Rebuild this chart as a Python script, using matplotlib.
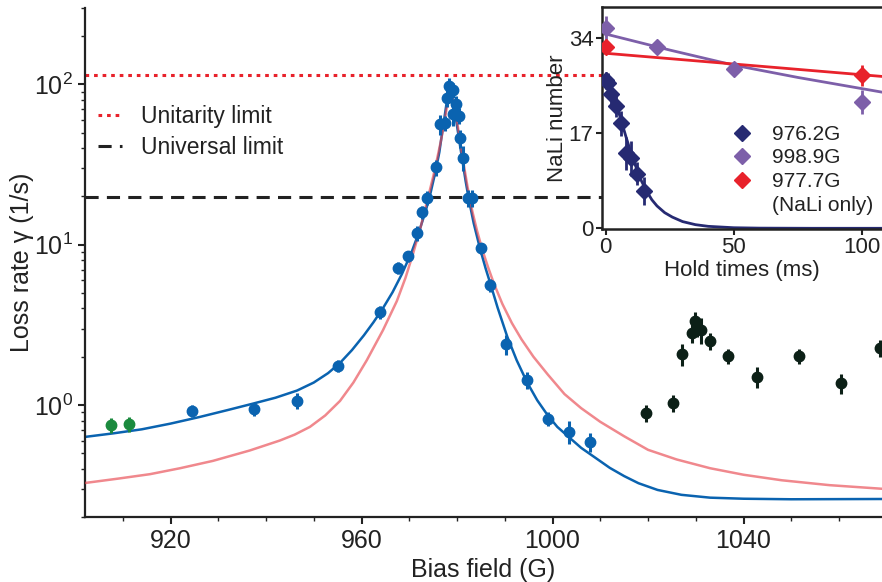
import numpy as np
import matplotlib
matplotlib.use("Agg")
import matplotlib.pyplot as plt
from matplotlib.ticker import MultipleLocator, LogLocator, NullFormatter, FixedLocator
from matplotlib.lines import Line2D

plt.rcParams['font.family'] = ['Liberation Sans', 'DejaVu Sans']
plt.rcParams['mathtext.fontset'] = 'custom'
plt.rcParams['mathtext.rm'] = 'Liberation Sans'

# ---- main panel: loss rate vs bias field ----
green_B = [907.5, 911.3]
green_g = [0.75, 0.76]
green_err = [0.08, 0.08]

blue_B = [924.5, 937.5, 946.5, 955.1, 963.9, 967.6, 969.7, 971.6, 972.7, 973.7,
          975.6, 976.4, 977.5, 977.9, 978.3, 979.2, 979.1, 979.8, 980.4, 980.6,
          981.3, 982.3, 983.1, 985.0, 986.9, 990.3, 994.7, 999.1, 1003.5, 1007.9]
blue_g = [0.92, 0.944, 1.06, 1.75, 3.8, 7.16, 8.5, 11.8, 16.0, 19.6,
          30.5, 56.6, 57.4, 82, 97.6, 92, 65, 75.5, 64, 46,
          35, 19.6, 19.6, 9.5, 5.6, 2.4, 1.43, 0.82, 0.68, 0.59]
blue_err = [0.08, 0.09, 0.12, 0.15, 0.35, 0.6, 0.7, 1.2, 1.5, 2.0,
            3.5, 8, 6, 10, 12, 10, 10, 9, 7, 6,
            6, 2.5, 2.5, 0.8, 0.5, 0.35, 0.18, 0.08, 0.11, 0.08]

dark_B = [1019.6, 1025.2, 1027.1, 1029.2, 1029.8, 1030.3, 1031.1, 1033.0, 1036.8,
          1042.8, 1051.6, 1060.4, 1068.6]
dark_g = [0.89, 1.03, 2.08, 2.81, 3.34, 3.07, 2.94, 2.5, 2.02, 1.50, 2.02, 1.37, 2.27]
dark_err = [0.11, 0.12, 0.32, 0.37, 0.45, 0.4, 0.55, 0.3, 0.22, 0.22, 0.22, 0.2, 0.28]

# model curves
bluefit_B = [902.1, 908, 914, 920, 926, 932, 937.3, 942, 946.5, 950,
             953, 955.5, 958, 960.5, 962.5, 964.5, 966.5, 968.5, 970.5, 972,
             973.5, 974.5, 975.5, 976.3, 976.8, 977.3, 977.7, 978.0, 978.3, 978.6,
             978.9, 979.3, 979.8, 980.4, 981.1, 981.8, 982.5, 983.5, 984.8, 986.0,
             987.0, 988.5, 990.5, 992.5, 994.7, 996.8, 998.9, 1001, 1003.7, 1006,
             1008.9, 1012, 1015, 1018, 1022, 1027, 1033, 1040, 1050, 1069]
bluefit_g = [0.632, 0.665, 0.705, 0.765, 0.84, 0.93, 1.02, 1.11, 1.23, 1.38,
             1.58, 1.83, 2.20, 2.72, 3.28, 4.02, 5.05, 6.6, 9.0, 11.9,
             16.5, 21.3, 28.7, 37.8, 47.9, 60.3, 72.4, 83.2, 90.2, 90.6,
             85.1, 74.1, 60.3, 46.2, 33.9, 25.0, 19.0, 13.6, 9.5, 7.1,
             5.7, 4.05, 2.68, 1.90, 1.38, 1.07, 0.87, 0.73, 0.62, 0.54,
             0.47, 0.405, 0.36, 0.325, 0.295, 0.275, 0.264, 0.26, 0.258, 0.259]

pinkfit_B = [902.1, 909, 915.7, 922, 928.9, 936.6, 942.9, 946, 949.2, 952.4,
             955.5, 958.3, 961.1, 964.5, 967.4, 969.2, 970.8, 972.3, 973.7, 975.0,
             975.8, 976.6, 977.3, 977.8, 978.2, 978.6, 979.0, 979.5, 980.0, 980.6,
             981.3, 982.2, 983.2, 984.2, 985.3, 986.5, 987.7, 989.5, 991.5, 993.5,
             996, 999, 1002.5, 1006, 1010, 1015, 1020, 1026, 1033, 1040,
             1048, 1058, 1069]
pinkfit_g = [0.326, 0.347, 0.37, 0.403, 0.448, 0.52, 0.60, 0.653, 0.73, 0.86,
             1.06, 1.38, 1.90, 2.93, 4.45, 6.2, 8.8, 12.6, 18.5, 26.5,
             34, 44, 57, 70, 81, 87, 84, 72, 59, 45,
             33, 23, 16.2, 12.2, 9.3, 7.24, 5.75, 4.27, 3.24, 2.57,
             2.0, 1.55, 1.17, 0.955, 0.785, 0.638, 0.525, 0.457, 0.403, 0.367,
             0.339, 0.316, 0.30]

unitarity = 114.5
universal = 19.8

# ---- inset: NaLi number vs hold time ----
navy_t = [0, 1, 2, 4, 6, 8, 10, 12, 15]
navy_N = [26.5, 26.0, 24.0, 21.9, 18.8, 13.4, 12.5, 9.8, 6.7]
navy_err = [1.5, 1.8, 2.0, 2.0, 2.2, 3.0, 3.2, 2.0, 2.5]

purple_t = [0, 20, 50, 100]
purple_N = [35.8, 32.5, 28.6, 22.6]
purple_err = [2.2, 1.0, 1.2, 2.2]

red_t = [0, 100]
red_N = [32.5, 27.4]
red_err = [1.0, 1.9]

navyfit_t = [0, 2, 4, 6, 8, 10, 12, 14, 16, 18, 20, 23, 26, 30, 35, 40, 50, 60, 80, 110]
navyfit_N = [27.0, 25.0, 22.3, 19.3, 16.2, 13.3, 10.7, 8.4, 6.6, 5.1, 4.0, 2.8, 2.0,
             1.2, 0.65, 0.35, 0.1, 0.03, 0.0, 0.0]
purplefit_t = [-2, 25, 50, 75, 110]
purplefit_N = [35.0, 31.9, 29.2, 27.0, 24.2]
redfit_t = [-2, 110]
redfit_N = [31.4, 27.1]

legend_labels = ['976.2G', '998.9G', '977.7G', '(NaLi only)']

c_green = '#1b8a3e'
c_blue = '#0a63b0'
c_dark = '#0c2017'
c_pink = '#e84850'
c_navy = '#262a72'
c_purple = '#7d5fa9'
c_red = '#e8222b'
c_ink = '#222222'

dotted = (0, (1.2, 1.6))
dashed = (0, (4.3, 2.7))

fig = plt.figure(figsize=(8.82, 5.82), dpi=100)
ax = fig.add_axes([0.0964, 0.1117, 0.9036, 0.8746])

ax.axhline(unitarity, color=c_red, ls=dotted, lw=2.2, zorder=1)
ax.axhline(universal, color=c_ink, ls=dashed, lw=2.2, zorder=1)

ax.plot(bluefit_B, bluefit_g, color=c_blue, lw=1.8, zorder=2)
ax.plot(pinkfit_B, pinkfit_g, color=c_pink, lw=1.8, alpha=0.65, zorder=3)

for B, g, e, c in [(green_B, green_g, green_err, c_green),
                   (blue_B, blue_g, blue_err, c_blue),
                   (dark_B, dark_g, dark_err, c_dark)]:
    ax.errorbar(B, g, yerr=e, fmt='o', ms=7.5, color=c, mec=c, elinewidth=2.2,
                capsize=0, zorder=4)

ax.set_yscale('log')
ax.set_xlim(902.1, 1069)
ax.set_ylim(0.2, 300)
ax.xaxis.set_major_locator(MultipleLocator(40))
ax.xaxis.set_minor_locator(MultipleLocator(10))
ax.yaxis.set_major_locator(LogLocator(base=10, numticks=10))
ax.yaxis.set_minor_locator(LogLocator(base=10, subs=np.arange(2, 10), numticks=20))
ax.yaxis.set_minor_formatter(NullFormatter())
for s in ['top', 'right']:
    ax.spines[s].set_visible(False)
for s in ['left', 'bottom']:
    ax.spines[s].set_linewidth(1.6)
    ax.spines[s].set_color(c_ink)
ax.tick_params(which='major', direction='out', length=5, width=1.5, labelsize=18,
               colors=c_ink)
ax.tick_params(which='minor', direction='out', length=3, width=1.0, colors=c_ink)
ax.set_xlabel('Bias field (G)', fontsize=18, color=c_ink, labelpad=4)
ax.set_ylabel('Loss rate γ (1/s)', fontsize=18, color=c_ink, labelpad=0)

leg_handles = [Line2D([], [], color=c_red, ls=dotted, lw=2.2),
               Line2D([], [], color=c_ink, ls=dashed, lw=2.2)]
ax.legend(leg_handles, ['Unitarity limit', 'Universal limit'], loc='upper left',
          bbox_to_anchor=(0.005, 0.828), frameon=False, fontsize=16.5,
          handlelength=1.05, handletextpad=0.8, labelspacing=0.35,
          borderaxespad=0, labelcolor=c_ink)

# inset
axi = fig.add_axes([0.6822, 0.6065, 0.3178, 0.3814])
axi.plot(navyfit_t, navyfit_N, color=c_navy, lw=2.0, zorder=2)
axi.plot(purplefit_t, purplefit_N, color=c_purple, lw=2.0, zorder=2)
axi.plot(redfit_t, redfit_N, color=c_red, lw=2.0, zorder=2)
for t, N, e, c in [(navy_t, navy_N, navy_err, c_navy),
                   (purple_t, purple_N, purple_err, c_purple),
                   (red_t, red_N, red_err, c_red)]:
    axi.errorbar(t, N, yerr=e, fmt='D', ms=8, color=c, elinewidth=2,
                 capsize=0, zorder=3)
axi.set_xlim(-1.6, 107.9)
axi.set_ylim(-0.13, 39.6)
axi.xaxis.set_major_locator(FixedLocator([0, 50, 100]))
axi.yaxis.set_major_locator(FixedLocator([0, 17, 34]))
axi.spines['right'].set_visible(False)
for s in ['left', 'bottom', 'top']:
    axi.spines[s].set_linewidth(1.8)
    axi.spines[s].set_color(c_ink)
axi.tick_params(direction='out', length=4, width=1.5, labelsize=16, colors=c_ink,
                pad=2)
axi.set_xlabel('Hold times (ms)', fontsize=16, color=c_ink, labelpad=1)
axi.set_ylabel('NaLi number', fontsize=16, color=c_ink, labelpad=0)

ih = [Line2D([], [], marker='D', ls='none', ms=8, color=c)
      for c in [c_navy, c_purple, c_red]]
ih.append(Line2D([], [], ls='none'))
axi.legend(ih, legend_labels, loc='upper left', bbox_to_anchor=(0.44, 0.507),
           frameon=False, fontsize=15, handlelength=0.8, handletextpad=1.05,
           labelspacing=0.22, borderaxespad=0, labelcolor=c_ink)

fig.savefig('out.png', dpi=100)
